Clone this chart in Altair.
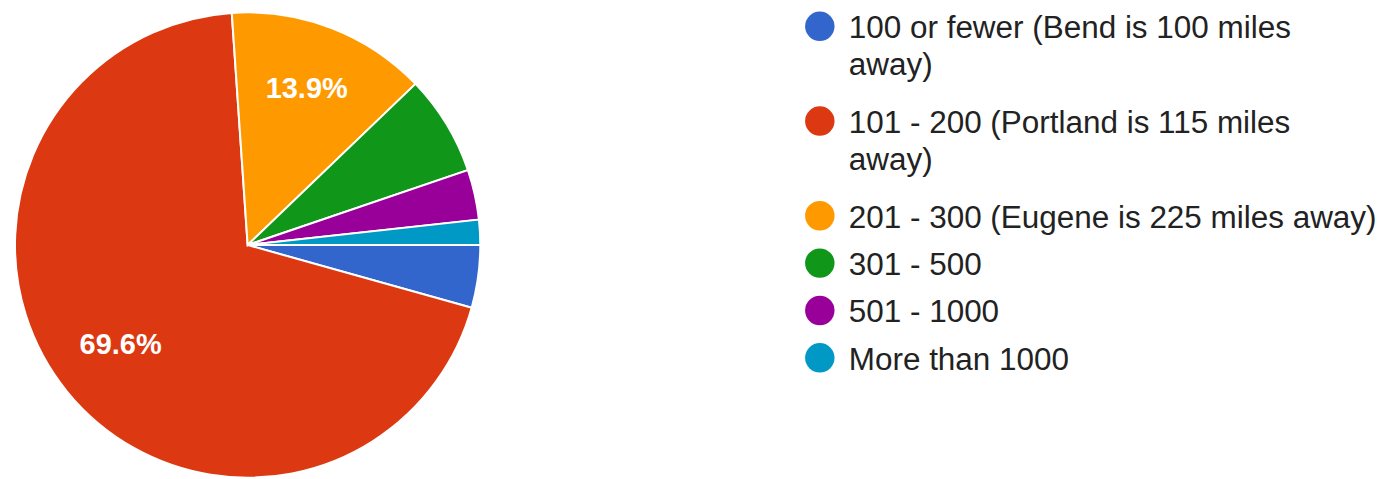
import math
import altair as alt
import pandas as pd

categories = [
    "100 or fewer (Bend is 100 miles away)",
    "101 - 200 (Portland is 115 miles away)",
    "201 - 300 (Eugene is 225 miles away)",
    "301 - 500",
    "501 - 1000",
    "More than 1000",
]
counts = [5, 80, 16, 8, 4, 2]
colors = ["#3366cc", "#dc3912", "#ff9900", "#109618", "#990099", "#0099c6"]
legend_text = [
    "100 or fewer (Bend is 100 miles\naway)",
    "101 - 200 (Portland is 115 miles\naway)",
    "201 - 300 (Eugene is 225 miles away)",
    "301 - 500",
    "501 - 1000",
    "More than 1000",
]

pie_df = pd.DataFrame({"category": categories, "count": counts, "order": list(range(len(categories)))})

lines = [t.count("\n") + 1 for t in legend_text]
rows = []
acc = 0
for n in lines:
    rows.append(acc)
    acc += n
legend_df = pd.DataFrame({"category": categories, "text": legend_text, "row": rows})

color_scale = alt.Scale(domain=categories, range=colors)
theta_scale = alt.Scale(range=[math.pi / 2, math.pi / 2 + 2 * math.pi])

base = alt.Chart(pie_df)
arcs = base.mark_arc(outerRadius=233, stroke="white", strokeWidth=2).encode(
    theta=alt.Theta("count:Q", stack=True, scale=theta_scale),
    color=alt.Color("category:N", scale=color_scale, legend=None),
    order=alt.Order("order:Q"),
)
labels = base.transform_joinaggregate(total="sum(count)").transform_calculate(
    pct="datum.count / datum.total",
    label="datum.pct >= 0.1 ? format(datum.pct, '.1%') : ''",
).mark_text(
    radius=164, fontSize=29, fontWeight="bold", color="white", dy=-3,
    font="Liberation Sans", align="center", baseline="middle",
).encode(
    theta=alt.Theta("count:Q", stack=True, scale=theta_scale),
    order=alt.Order("order:Q"),
    text="label:N",
)
pie = alt.layer(arcs, labels).properties(width=480, height=470)

y_enc = alt.Y("row:Q", scale=alt.Scale(domain=[0, 7], range=[16, 348]), axis=None)
lbase = alt.Chart(legend_df)
dots = lbase.mark_point(filled=True, shape="circle", size=870, opacity=1).encode(
    x=alt.value(21),
    y=y_enc,
    color=alt.Color("category:N", scale=color_scale, legend=None),
)
texts = lbase.mark_text(
    align="left", baseline="alphabetic", dy=12, fontSize=31.5, lineBreak="\n",
    lineHeight=37, color="#222222", font="Liberation Sans",
).encode(x=alt.value(50), y=y_enc, text="text:N")
legend = alt.layer(dots, texts).properties(width=560, height=470)

chart = alt.hconcat(pie, legend, spacing=312).properties(padding=0).configure_view(stroke=None)
chart.save("out.html", embed_options={"renderer": "svg", "actions": False})
